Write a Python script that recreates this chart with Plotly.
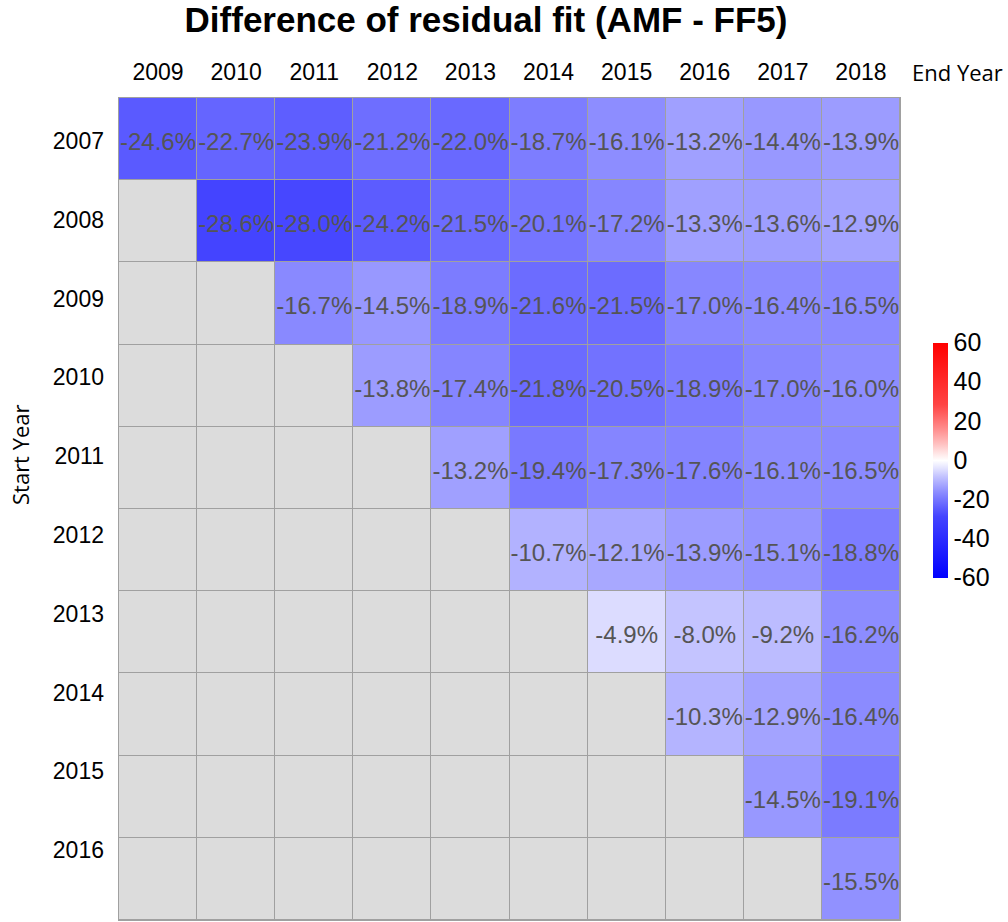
import plotly.graph_objects as go

end_years = [2009, 2010, 2011, 2012, 2013, 2014, 2015, 2016, 2017, 2018]
start_years = [2007, 2008, 2009, 2010, 2011, 2012, 2013, 2014, 2015, 2016]

N = None
row_2007 = [-24.6, -22.7, -23.9, -21.2, -22.0, -18.7, -16.1, -13.2, -14.4, -13.9]
row_2008 = [N, -28.6, -28.0, -24.2, -21.5, -20.1, -17.2, -13.3, -13.6, -12.9]
row_2009 = [N, N, -16.7, -14.5, -18.9, -21.6, -21.5, -17.0, -16.4, -16.5]
row_2010 = [N, N, N, -13.8, -17.4, -21.8, -20.5, -18.9, -17.0, -16.0]
row_2011 = [N, N, N, N, -13.2, -19.4, -17.3, -17.6, -16.1, -16.5]
row_2012 = [N, N, N, N, N, -10.7, -12.1, -13.9, -15.1, -18.8]
row_2013 = [N, N, N, N, N, N, -4.9, -8.0, -9.2, -16.2]
row_2014 = [N, N, N, N, N, N, N, -10.3, -12.9, -16.4]
row_2015 = [N, N, N, N, N, N, N, N, -14.5, -19.1]
row_2016 = [N, N, N, N, N, N, N, N, N, -15.5]

z = [row_2007, row_2008, row_2009, row_2010, row_2011,
     row_2012, row_2013, row_2014, row_2015, row_2016]

# label positions/text built from the data arrays
lab_x, lab_y, lab_t = [], [], []
for sy, row in zip(start_years, z):
    for ey, v in zip(end_years, row):
        if v is not None:
            lab_x.append(ey)
            lab_y.append(sy)
            lab_t.append(f"{v:.1f}%")

colorscale = [
    [0.0, "rgb(0,0,255)"],
    [0.2617, "rgb(68,68,255)"],
    [0.295, "rgb(90,90,255)"],
    [0.365, "rgb(140,140,255)"],
    [0.4333, "rgb(196,196,255)"],
    [0.459, "rgb(220,220,255)"],
    [0.5, "rgb(255,255,255)"],
    [0.541, "rgb(255,220,220)"],
    [0.5667, "rgb(255,196,196)"],
    [0.635, "rgb(255,140,140)"],
    [0.705, "rgb(255,90,90)"],
    [0.7383, "rgb(255,68,68)"],
    [1.0, "rgb(255,0,0)"],
]

FONT = "Liberation Sans, Arial"

fig = go.Figure()

# grey background cells
fig.add_trace(go.Heatmap(
    x=end_years, y=start_years,
    z=[[0] * len(end_years) for _ in start_years],
    colorscale=[[0, "#dcdcdc"], [1, "#dcdcdc"]],
    showscale=False, xgap=1, ygap=1, hoverinfo="skip",
))

fig.add_trace(go.Heatmap(
    x=end_years, y=start_years, z=z,
    colorscale=colorscale, zmin=-60, zmax=60,
    xgap=1, ygap=1, hoverinfo="skip",
    colorbar=dict(
        x=(933 - 119) / 781, xanchor="left", xpad=0,
        y=(920 - 460) / 822, yanchor="middle", ypad=0,
        len=235, lenmode="pixels", thickness=15,
        outlinewidth=0,
        tickvals=[-60, -40, -20, 0, 20, 40, 60],
        ticktext=["-60", "-40", "-20", "0", "20", "40", "60"],
        ticks="", ticklabelposition="outside",
        tickfont=dict(family=FONT, size=25, color="black"),
    ),
))

# cell labels on a slightly offset overlay axis (text sits a bit low in cells)
fig.add_trace(go.Scatter(
    x=lab_x, y=lab_y, text=lab_t, mode="text", yaxis="y3",
    textposition="middle center",
    textfont=dict(family=FONT, size=24, color="#555555"),
    showlegend=False, hoverinfo="skip",
))

fig.update_layout(
    width=1008, height=922,
    margin=dict(l=119, r=108, t=98, b=2, autoexpand=False),
    paper_bgcolor="white",
    plot_bgcolor="#a0a0a0",
    title=dict(
        text="<b>Difference of residual fit (AMF - FF5)</b>",
        x=486 / 1008, xanchor="center", y=1 - 20 / 922, yanchor="middle",
        font=dict(family=FONT, size=35, color="black"),
    ),
    xaxis=dict(
        side="top", tickmode="array", tickvals=end_years,
        ticktext=[str(v) for v in end_years],
        tickfont=dict(family=FONT, size=23, color="black"),
        ticks="", showgrid=False, zeroline=False, automargin=False,
        showline=True, linecolor="#a0a0a0", linewidth=1, mirror=True,
        range=[2008.5, 2018.5], ticklabelstandoff=8,
    ),
    yaxis=dict(
        autorange=False, range=[2016.5, 2006.5], automargin=False,
        showticklabels=False, ticks="", showgrid=False, zeroline=False,
        showline=True, linecolor="#a0a0a0", linewidth=1, mirror=True,
    ),
    yaxis2=dict(
        overlaying="y", side="left", anchor="x", automargin=False,
        range=[2016.886, 2006.454], autorange=False,
        tickmode="array", tickvals=start_years,
        ticktext=[str(v) for v in start_years],
        tickfont=dict(family=FONT, size=23, color="black"),
        ticks="", showgrid=False, zeroline=False, showline=False,
        ticklabelstandoff=14,
    ),
    yaxis3=dict(
        overlaying="y", anchor="x", automargin=False,
        range=[2016.44, 2006.44], autorange=False,
        showticklabels=False, ticks="", showgrid=False, zeroline=False,
        showline=False,
    ),
    annotations=[
        dict(text="End Year", xref="paper", yref="paper",
             x=(957 - 119) / 781, y=1 + 26 / 822, xanchor="center", yanchor="middle",
             showarrow=False, font=dict(family="Open Sans", size=22, color="black")),
        dict(text="Start Year", xref="paper", yref="paper",
             x=(20 - 119) / 781, y=(920 - 455) / 822, xanchor="center", yanchor="middle",
             textangle=-90, showarrow=False,
             font=dict(family="Open Sans", size=22, color="black")),
    ],
)

# invisible trace to activate yaxis2
fig.add_trace(go.Scatter(x=[end_years[0]], y=[start_years[0]], yaxis="y2",
                         mode="markers", marker=dict(opacity=0), showlegend=False,
                         hoverinfo="skip"))

fig.write_html("out.html", config={"displayModeBar": False},
               post_script="document.body.style.margin='0';")
